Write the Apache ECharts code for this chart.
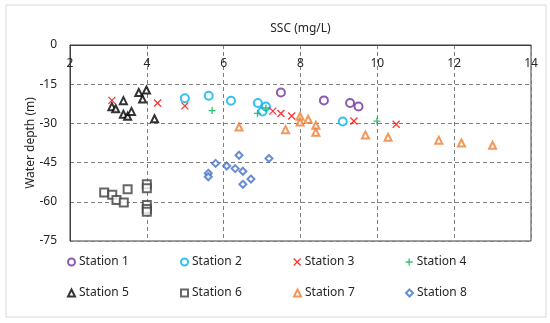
<!DOCTYPE html>
<html>
<head>
<meta charset="utf-8">
<script src="https://cdn.jsdelivr.net/npm/echarts@6/dist/echarts.min.js"></script>
<style>html,body{margin:0;padding:0;background:#fff}#c{width:550px;height:323px}</style>
</head>
<body>
<div id="c"></div>
<script>
const stationNames = ['Station 1','Station 2','Station 3','Station 4','Station 5','Station 6','Station 7','Station 8'];
const xTicks = [2,4,6,8,10,12,14];
const yTicks = [0,-15,-30,-45,-60,-75];
const station1 = [[7.49,-18.2],[8.61,-21.2],[9.29,-22.2],[9.51,-23.5]];
const station2 = [[4.99,-20.4],[5.61,-19.4],[6.19,-21.3],[6.89,-22.2],[7.01,-25.4],[7.10,-23.5],[9.10,-29.3]];
const station3 = [[3.09,-21.2],[4.28,-22.2],[4.99,-23.3],[7.28,-25.3],[7.49,-26.2],[7.77,-27.2],[9.39,-29.1],[10.49,-30.3]];
const station4 = [[5.70,-25.1],[6.88,-26.2],[7.10,-24.1],[9.99,-29.1]];
const station5 = [[3.09,-23.6],[3.19,-24.4],[3.39,-21.3],[3.39,-26.5],[3.50,-27.3],[3.60,-25.4],[3.79,-18.2],[3.89,-20.7],[3.99,-17.2],[4.20,-28.2]];
const station6 = [[2.89,-56.4],[3.10,-57.3],[3.21,-59.3],[3.40,-60.3],[3.50,-55.2],[4.0,-53.3],[4.0,-54.8],[4.0,-61.2],[4.0,-62.8],[4.0,-63.8]];
const station7 = [[6.40,-31.4],[7.61,-32.4],[7.99,-27.3],[7.99,-29.5],[8.20,-28.4],[8.40,-30.7],[8.40,-33.4],[9.69,-34.4],[10.28,-35.3],[11.60,-36.4],[12.19,-37.5],[13.0,-38.4]];
const station8 = [[5.79,-45.3],[6.08,-46.3],[5.60,-49.1],[5.60,-50.4],[6.40,-42.2],[7.18,-43.4],[6.30,-47.3],[6.50,-48.3],[6.71,-51.3],[6.50,-53.3]];

const allData = [station1,station2,station3,station4,station5,station6,station7,station8];
const colors = ['#7030A0','#00B0F0','#FF0000','#00B050','#000000','#404040','#ED7D31','#4472C4'];
const symbols = ['emptyCircle','emptyCircle','path://M0,0L10,10M10,0L0,10','path://M5,0L5,10M0,5L10,5','emptyTriangle','emptyRect','emptyTriangle','emptyDiamond'];
const sizes = [8,8,7,7,7,8,7,7];

const FONT = 'Noto Sans';
function styleFor(i, w){
  const isPath = symbols[i].startsWith('path://');
  return isPath ? {color:'rgba(0,0,0,0)', borderColor: colors[i], borderWidth: 1.3}
                : {color: colors[i], borderColor: colors[i], borderWidth: w};
}
const series = stationNames.map((n,i)=>({
  name: n, type: 'scatter', data: allData[i],
  symbol: symbols[i], symbolSize: sizes[i],
  itemStyle: styleFor(i, 0.9),
  emphasis: {disabled: true}
}));

const colLeft = [67,180,293,405];
const rowTop = [256,287];
const legends = stationNames.map((n,i)=>({
  data:[{name:n, icon: symbols[i]}],
  left: colLeft[i%4], top: rowTop[Math.floor(i/4)],
  itemWidth: 7, itemHeight: 7, itemGap: 4, padding: 0,
  itemStyle: styleFor(i, 0.8),
  textStyle: {fontFamily: FONT, fontSize: 12, color:'#262626', padding:[0,0,0,-1]},
  selectedMode: false
}));

const chart = echarts.init(document.getElementById('c'), null, {renderer:'canvas'});
chart.setOption({
  animation: false,
  backgroundColor: '#fff',
  graphic: [{type:'rect', shape:{x:6,y:5,width:540,height:312}, style:{fill:'none', stroke:'#d9d9d9', lineWidth:1}, silent:true}],
  grid: {left:70, right:19, top:45, bottom:82, show:true, borderColor:'#404040', borderWidth:1, backgroundColor:'transparent'},
  legend: legends,
  xAxis: {
    type:'value', position:'top', min: xTicks[0], max: xTicks[xTicks.length-1], interval: 2,
    name: 'SSC (mg/L)', nameLocation:'middle', nameGap: 10, nameMoveOverlap: false,
    nameTextStyle: {fontFamily: FONT, fontSize: 12, color:'#262626'},
    axisLine: {show:true, lineStyle:{color:'#404040', width:1}},
    axisTick: {show:false},
    axisLabel: {inside:true, margin: 13, fontFamily: FONT, fontSize: 12, color:'#262626'},
    splitLine: {show:true, lineStyle:{color:'#808080', type:[4,3], width:1}}
  },
  yAxis: {
    type:'value', min: yTicks[yTicks.length-1], max: yTicks[0], interval: 15,
    name: 'Water depth (m)', nameLocation:'middle', nameGap: 33, nameRotate: 90, nameMoveOverlap: false,
    nameTextStyle: {fontFamily: FONT, fontSize: 12, color:'#262626'},
    axisLine: {show:true, lineStyle:{color:'#404040', width:1}},
    axisTick: {show:false},
    axisLabel: {margin: 13, fontFamily: FONT, fontSize: 12, color:'#262626'},
    splitLine: {show:true, lineStyle:{color:'#808080', type:[4,3], width:1}}
  },
  series: series
});
</script>
</body>
</html>
